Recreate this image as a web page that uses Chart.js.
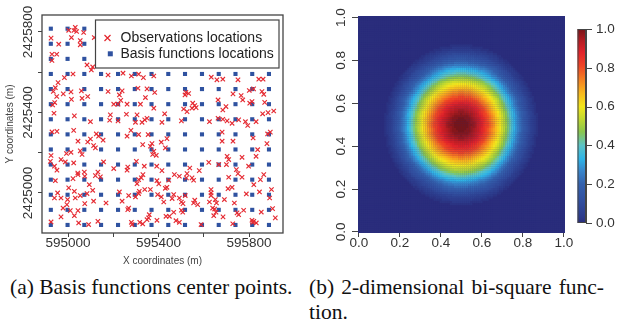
<!DOCTYPE html>
<html>
<head>
<meta charset="utf-8">
<script src="https://cdn.jsdelivr.net/npm/chart.js@4.4.1/dist/chart.umd.min.js"></script>
<style>
body{margin:0;background:#fff;width:617px;height:331px;overflow:hidden;position:relative;font-family:"Liberation Serif","Times New Roman",serif;}
#left{position:absolute;left:0;top:0;}
#right{position:absolute;left:300px;top:0;}
.cap{position:absolute;font-size:21.5px;color:#111;line-height:25px;white-space:nowrap;}
#capA{left:10px;top:275px;}
#capB{left:309px;top:275px;width:295px;}
#capB .l1{text-align:justify;text-align-last:justify;}
</style>
</head>
<body>
<canvas id="left" width="300" height="270"></canvas>
<canvas id="right" width="317" height="270"></canvas>
<div class="cap" id="capA">(a) Basis functions center points.</div>
<div class="cap" id="capB"><div class="l1">(b) 2-dimensional bi-square func-</div><div>tion.</div></div>
<script>
const obsLocations = [
 [595032,2425823],[595026,2425807],[595038,2425802],[595003,2425808],[595069,2425797],[595015,2425772],
 [594925,2425769],[595054,2425757],[595116,2425772],[594959,2425739],[595054,2425736],[594929,2425689],
 [594950,2425689],[594929,2425658],[595084,2425636],[595109,2425626],[595103,2425611],[595022,2425591],
 [595177,2425586],[594984,2425573],[594956,2425548],[594944,2425523],[594935,2425504],[594979,2425492],
 [595013,2425502],[595059,2425507],[594950,2425479],[595087,2425479],[595062,2425470],[595015,2425465],
 [595177,2425504],[595239,2425507],[595227,2425487],[594941,2425449],[594932,2425437],[595202,2425441],
 [595221,2425441],[595233,2425460],[594938,2425396],[595028,2425383],[595099,2425354],[595187,2425388],
 [595184,2425361],[595221,2425358],
 [595280,2425581],[595312,2425590],[595243,2425595],[595333,2425573],[595379,2425581],
 [595309,2425520],[595349,2425517],[595383,2425499],[595342,2425474],
 [595521,2425500],[595517,2425487],[595533,2425494],
 [595261,2425441],[595320,2425441],[595379,2425421],
 [595551,2425446],[595560,2425434],[595566,2425424],[595548,2425421],
 [595258,2425391],[595305,2425388],[595427,2425393],[595511,2425417],[595526,2425404],
 [595298,2425351],[595327,2425351],[595339,2425363],[595349,2425371],[595415,2425351],[595501,2425358],
 [595633,2425575],[595658,2425562],[595684,2425565],[595751,2425562],[595843,2425565],[595862,2425565],
 [595729,2425492],[595765,2425484],[595772,2425462],[595801,2425509],[595820,2425517],[595857,2425504],[595865,2425490],
 [595663,2425462],[595803,2425446],[595813,2425454],[595869,2425450],
 [595698,2425429],[595684,2425412],
 [595860,2425393],[595884,2425399],[595909,2425407],
 [595625,2425354],[595663,2425371],[595684,2425366],[595703,2425358],[595725,2425346],[595754,2425363],[595784,2425354],[595831,2425354],
 [594929,2425303],[594951,2425306],[595025,2425311],
 [595044,2425257],[595099,2425268],[595087,2425253],[595125,2425293],[595135,2425282],[595155,2425262],
 [595113,2425235],[595121,2425224],
 [595013,2425202],[595054,2425209],[595062,2425191],[594993,2425196],
 [594925,2425186],[594969,2425166],[594988,2425154],[594922,2425157],
 [594940,2425133],[594951,2425113],[595025,2425149],
 [595043,2425099],[595044,2425091],[595072,2425104],[595074,2425083],[595132,2425104],[595143,2425080],[595121,2425086],
 [595157,2425154],[595202,2425121],
 [594944,2425061],[595022,2425071],[595094,2425041],[595003,2425025],[595028,2425008],[595109,2425013],
 [594954,2425000],[595084,2424997],[595054,2424987],
 [594940,2424975],[594969,2424975],[595032,2424975],[594998,2424967],
 [595113,2424959],[595074,2424947],[595168,2424950],[595227,2425005],[595239,2424959],
 [594995,2424942],[594978,2424925],[595010,2424912],[595044,2424912],
 [594969,2424881],[595028,2424887],
 [594925,2424856],[595047,2424851],[595091,2424843],[595132,2424859],
 [595278,2425311],[595261,2425282],[595312,2425290],[595354,2425290],
 [595330,2425240],[595371,2425245],[595364,2425232],[595412,2425252],[595437,2425270],[595430,2425224],
 [595379,2425207],[595390,2425187],[595374,2425191],
 [595302,2425157],[595264,2425129],[595261,2425113],
 [595337,2425133],[595392,2425133],[595415,2425111],
 [595331,2425091],[595312,2425066],[595305,2425046],[595324,2425075],
 [595393,2425061],[595401,2425045],[595445,2425063],[595437,2425028],[595430,2425023],
 [595470,2425091],[595492,2425083],[595526,2425096],[595523,2425075],[595548,2425075],[595555,2425063],[595580,2425111],[595538,2425124],
 [595364,2425017],[595339,2425017],[595315,2425008],[595312,2424997],
 [595268,2424987],[595298,2424980],[595396,2424992],[595412,2424980],[595423,2424955],[595467,2424992],[595460,2424972],
 [595492,2424975],[595508,2424947],[595501,2424955],[595518,2424987],[595560,2424964],[595555,2424950],[595573,2424942],
 [595268,2424925],[595264,2424917],
 [595467,2424904],[595501,2424914],[595507,2424904],
 [595433,2424884],[595448,2424884],[595359,2424892],
 [595349,2424867],[595356,2424876],
 [595393,2424864],[595477,2424862],[595492,2424854],
 [595280,2424854],[595283,2424843],[595317,2424854],[595330,2424846],[595588,2424843],
 [595794,2425335],[595894,2425302],[595882,2425293],
 [595681,2425302],[595681,2425257],[595729,2425257],[595818,2425273],[595879,2425245],
 [595838,2425215],[595831,2425182],[595769,2425177],
 [595703,2425182],[595710,2425166],[595700,2425141],[595622,2425152],[595666,2425141],
 [595798,2425133],
 [595744,2425116],[595751,2425096],[595769,2425078],[595710,2425078],
 [595865,2425091],[595850,2425066],[595821,2425041],
 [595707,2425021],[595725,2425028],
 [595632,2425017],[595632,2425000],[595632,2424987],[595625,2424955],[595651,2424967],[595656,2424950],[595691,2424967],
 [595735,2424950],[595788,2424995],[595846,2425005],[595899,2425017],[595891,2424975],
 [595639,2424925],[595648,2424920],[595654,2424904],[595644,2424887],[595685,2424881],
 [595747,2424901],[595754,2424892],[595776,2424914],[595854,2424905],[595904,2424922],[595916,2424876],
 [595728,2424847],[595813,2424864],[595816,2424854],[595832,2424851],[595821,2424859]
];
// basis function centres: a regular 14 x 14 grid
const basisCols = [594924,594998,595072,595146,595221,595295,595369,595443,595517,595592,595666,595740,595814,595888];
const basisRows = [2424841,2424916,2424991,2425066,2425141,2425216,2425291,2425366,2425441,2425516,2425591,2425666,2425741,2425816];
const leftXTicks = [595000,595200,595400,595600,595800];
const leftXLabelled = [595000,595400,595800];
const leftYTicks = [2425000,2425200,2425400,2425600,2425800];
const leftYLabelled = [2425000,2425400,2425800];

// ---- panel (b): bi-square function on the unit square
const bsCenter = [0.5, 0.5];
const bsRadius = 0.4;
const cellStep = 0.01;
const unitTicks = [0, 0.2, 0.4, 0.6, 0.8, 1.0];
const cmapStops = [
 [0.00,'#2a2d7c'],[0.03,'#2c3a8a'],[0.12,'#3150a0'],[0.20,'#3461ad'],[0.27,'#3886cb'],[0.33,'#2eb4e7'],
 [0.40,'#5cc3c6'],[0.47,'#8ac64d'],[0.54,'#c4d92e'],[0.60,'#f2e61c'],[0.67,'#f8b81d'],
 [0.74,'#f47f22'],[0.81,'#ee4425'],[0.88,'#e0222a'],[0.94,'#b31c22'],[1.00,'#761519']
];

const FONT = '"Liberation Sans", Arial, sans-serif';
const AXC = '#333';

function hex2rgb(h){ return [parseInt(h.substr(1,2),16), parseInt(h.substr(3,2),16), parseInt(h.substr(5,2),16)]; }
function cmap(v){
  v = Math.floor(Math.min(1, Math.max(0, v)) * 63.999) / 63;
  for (let i = 1; i < cmapStops.length; i++) {
    if (v <= cmapStops[i][0]) {
      const a = cmapStops[i-1], b = cmapStops[i];
      const t = (v - a[0]) / (b[0] - a[0]);
      const ca = hex2rgb(a[1]), cb = hex2rgb(b[1]);
      return 'rgb(' + ca.map((c,k)=>Math.round(c + (cb[k]-c)*t)).join(',') + ')';
    }
  }
  return cmapStops[cmapStops.length-1][1];
}
function rotText(ctx, txt, x, y){
  ctx.save(); ctx.translate(x, y); ctx.rotate(-Math.PI/2); ctx.fillText(txt, 0, 0); ctx.restore();
}

// ---------------- left chart
const basisPts = [];
basisRows.forEach(y => basisCols.forEach(x => basisPts.push({x: x, y: y})));

const leftDeco = {
  id: 'leftDeco',
  afterDraw(chart){
    const ctx = chart.ctx, a = chart.chartArea, sy = chart.scales.y;
    ctx.save();
    ctx.strokeStyle = '#444'; ctx.lineWidth = 1.3;
    ctx.strokeRect(a.left, a.top, a.right - a.left, a.bottom - a.top);
    ctx.fillStyle = AXC; ctx.font = '13.5px ' + FONT;
    ctx.textAlign = 'center'; ctx.textBaseline = 'middle';
    leftYLabelled.forEach(v => rotText(ctx, String(v), 28.5, sy.getPixelForValue(v)));
    ctx.font = '10px ' + FONT; ctx.fillStyle = '#444';
    ctx.fillText('X coordinates (m)', (a.left + a.right)/2, 261.5);
    rotText(ctx, 'Y coordinates (m)', 10, (a.top + a.bottom)/2);
    // legend
    const lx = a.right - 187.5, ly = a.top + 5;
    ctx.fillStyle = '#fff'; ctx.fillRect(lx, ly, 183.5, 48);
    ctx.strokeStyle = '#444'; ctx.lineWidth = 1.2; ctx.strokeRect(lx, ly, 183.5, 48);
    ctx.strokeStyle = '#e3242b'; ctx.lineWidth = 1.2;
    ctx.beginPath();
    ctx.moveTo(lx + 9, ly + 15); ctx.lineTo(lx + 15, ly + 21);
    ctx.moveTo(lx + 15, ly + 15); ctx.lineTo(lx + 9, ly + 21);
    ctx.stroke();
    ctx.fillStyle = '#2f52a0'; ctx.fillRect(lx + 12.3, ly + 31.3, 5, 5);
    ctx.fillStyle = '#222'; ctx.font = '14px ' + FONT; ctx.textAlign = 'left';
    ctx.fillText('Observations locations', lx + 25, ly + 18.3);
    ctx.fillText('Basis functions locations', lx + 25, ly + 34.3);
    ctx.restore();
  }
};

new Chart(document.getElementById('left'), {
  type: 'scatter',
  data: {datasets: [
    {label: 'Observations locations', data: obsLocations.map(p => ({x: p[0], y: p[1]})),
     pointStyle: 'crossRot', pointRadius: 3.1, pointBorderColor: '#e52a32', pointBackgroundColor: '#e52a32', pointBorderWidth: 1.15},
    {label: 'Basis functions locations', data: basisPts,
     pointStyle: 'rect', pointRadius: 2.9, pointBackgroundColor: '#2f52a0', pointBorderWidth: 0}
  ]},
  options: {
    responsive: false, animation: false, devicePixelRatio: 1, events: [],
    layout: {padding: {left: 0, top: 15, right: 17, bottom: 0}},
    plugins: {legend: {display: false}, tooltip: {enabled: false}},
    scales: {
      x: {type: 'linear', min: 594885, max: 595950,
          afterBuildTicks: s => { s.ticks = leftXTicks.map(v => ({value: v})); },
          afterFit: s => { s.height = 37; },
          grid: {drawOnChartArea: false, tickLength: 4, color: '#444'},
          border: {display: false},
          ticks: {autoSkip: false, maxRotation: 0, padding: 0, color: AXC,
                  font: {family: FONT, size: 13.5, lineHeight: 1},
                  callback: v => leftXLabelled.includes(v) ? String(v) : ''}},
      y: {type: 'linear', min: 2424801, max: 2425884,
          afterBuildTicks: s => { s.ticks = leftYTicks.map(v => ({value: v})); },
          afterFit: s => { s.width = 42; },
          grid: {drawOnChartArea: false, tickLength: 4, color: '#444'},
          border: {display: false},
          ticks: {autoSkip: false, callback: () => ''}}
    }
  },
  plugins: [leftDeco]
});

// ---------------- right chart
const heatPts = [], heatCols = [];
const nCells = Math.round(1 / cellStep);
for (let i = 0; i <= nCells; i++) {
  for (let j = 0; j <= nCells; j++) {
    const x = i * cellStep, y = j * cellStep;
    const d = Math.hypot(x - bsCenter[0], y - bsCenter[1]);
    const v = d < bsRadius ? Math.pow(1 - Math.pow(d / bsRadius, 2), 2) : 0;
    heatPts.push({x: x, y: y});
    heatCols.push(cmap(v));
  }
}

const rightDeco = {
  id: 'rightDeco',
  beforeDatasetsDraw(chart){
    const ctx = chart.ctx, a = chart.chartArea;
    ctx.save(); ctx.fillStyle = cmap(0);
    ctx.fillRect(a.left, a.top, a.right - a.left, a.bottom - a.top);
    ctx.restore();
  },
  afterDraw(chart){
    const ctx = chart.ctx, sy = chart.scales.y;
    ctx.save();
    ctx.fillStyle = AXC; ctx.font = '13.5px ' + FONT;
    ctx.textAlign = 'center'; ctx.textBaseline = 'middle';
    unitTicks.forEach(v => rotText(ctx, v.toFixed(1), 41.7, sy.getPixelForValue(v)));
    // colour bar
    const bl = 277.5, br = 286, bt = 29, bb = 223;
    const g = ctx.createLinearGradient(0, bb, 0, bt);
    cmapStops.forEach(s => g.addColorStop(s[0], s[1]));
    ctx.fillStyle = g; ctx.fillRect(bl, bt, br - bl, bb - bt);
    ctx.strokeStyle = '#444'; ctx.lineWidth = 1;
    ctx.strokeRect(bl + 0.5, bt + 0.5, br - bl - 1, bb - bt - 1);
    ctx.beginPath();
    ctx.moveTo(br + 0.5, bt); ctx.lineTo(br + 0.5, bb);
    unitTicks.forEach(v => {
      const y = Math.round(bb - v * (bb - bt)) + 0.5;
      ctx.moveTo(br, y); ctx.lineTo(br + 6, y);
    });
    ctx.stroke();
    ctx.fillStyle = AXC; ctx.textAlign = 'left';
    unitTicks.forEach(v => ctx.fillText(v.toFixed(1), 296, bb - v * (bb - bt)));
    ctx.restore();
  }
};

new Chart(document.getElementById('right'), {
  type: 'scatter',
  data: {datasets: [
    {label: 'bi-square', data: heatPts, parsing: false, normalized: true,
     pointStyle: 'rect', pointRadius: 1.65, pointBackgroundColor: heatCols, pointBorderWidth: 0}
  ]},
  options: {
    responsive: false, animation: false, devicePixelRatio: 1, events: [],
    layout: {padding: {left: 0, top: 16, right: 52, bottom: 0}},
    plugins: {legend: {display: false}, tooltip: {enabled: false}},
    scales: {
      x: {type: 'linear', min: -0.004, max: 1.006,
          afterBuildTicks: s => { s.ticks = unitTicks.map(v => ({value: v})); },
          afterFit: s => { s.height = 37; },
          grid: {drawOnChartArea: false, tickLength: 4, color: '#444'},
          border: {display: false},
          ticks: {autoSkip: false, maxRotation: 0, padding: 0, color: AXC,
                  font: {family: FONT, size: 13.5, lineHeight: 1},
                  callback: v => v.toFixed(1)}},
      y: {type: 'linear', min: -0.005, max: 1.007,
          afterBuildTicks: s => { s.ticks = unitTicks.map(v => ({value: v})); },
          afterFit: s => { s.width = 58; },
          grid: {drawOnChartArea: false, tickLength: 6, color: '#444'},
          border: {display: false},
          ticks: {autoSkip: false, callback: () => ''}}
    }
  },
  plugins: [rightDeco]
});
</script>
</body>
</html>
